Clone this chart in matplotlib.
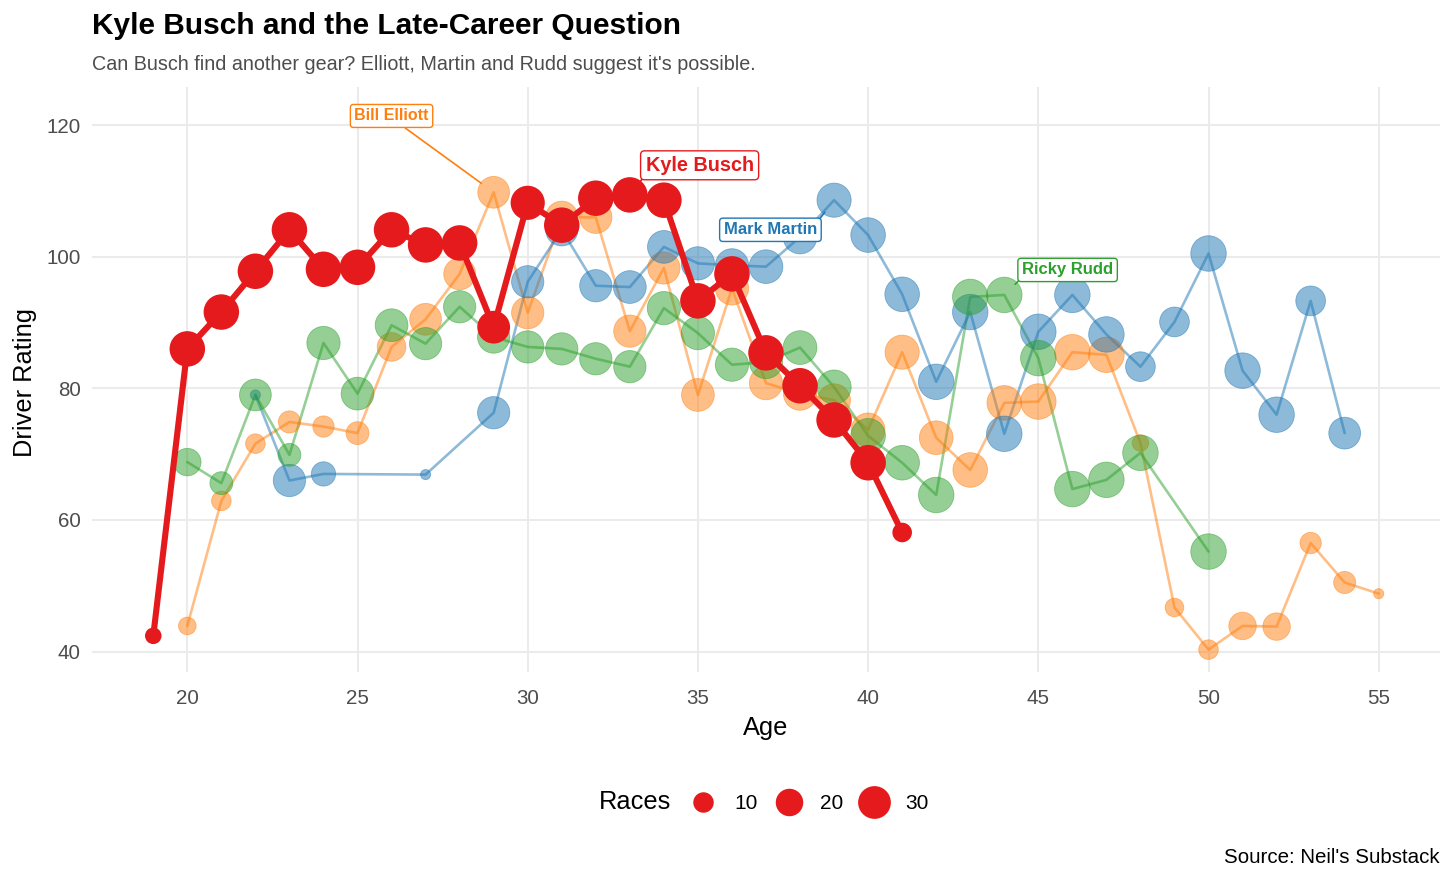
import matplotlib.pyplot as plt
from matplotlib.lines import Line2D

plt.rcParams['font.family'] = ['Liberation Sans', 'DejaVu Sans']

# data: age, driver rating, races started
busch_age = list(range(19, 42))
busch_rating = [42.4, 86.0, 91.6, 97.8, 104.1, 98.1, 98.4, 104.1, 101.8, 102.1, 89.3,
                108.2, 104.8, 108.9, 109.4, 108.6, 93.3, 97.4, 85.4, 80.4, 75.2, 68.7, 58.1]
busch_races = [6, 36, 36, 36, 36, 36, 36, 36, 36, 36, 30,
               33, 36, 36, 36, 36, 36, 36, 36, 36, 36, 36, 9]

elliott_age = list(range(20, 56))
elliott_rating = [43.9, 62.9, 71.6, 74.9, 74.2, 73.2, 86.3, 90.5, 97.4, 109.8, 91.5, 106.0,
                  106.0, 88.7, 98.3, 79.0, 95.2, 80.8, 79.2, 78.2, 73.7, 85.5, 72.5, 67.6,
                  77.8, 78.0, 85.5, 85.1, 71.7, 46.7, 40.3, 43.9, 43.8, 56.5, 50.5, 48.8]
elliott_races = [7, 9, 9, 12, 11, 13, 22, 28, 28, 28, 29, 29,
                 29, 29, 29, 30, 31, 31, 31, 30, 32, 33, 32, 34,
                 34, 36, 36, 36, 6, 8, 9, 20, 20, 11, 12, 2]

martin_age = [22, 23, 24, 27, 29] + list(range(30, 55))
martin_rating = [79.0, 66.0, 67.0, 66.9, 76.3, 96.2, 104.1, 95.6, 95.4, 101.5, 99.0,
                 98.7, 98.5, 103.0, 108.6, 103.3, 94.3, 81.0, 91.6, 73.1, 88.6, 94.2,
                 88.2, 83.3, 90.1, 100.5, 82.7, 76.0, 93.3, 73.2]
martin_races = [2, 29, 15, 2, 29, 29, 29, 29, 30, 30, 31,
                31, 32, 32, 33, 34, 34, 36, 36, 36, 36, 36,
                36, 24, 24, 36, 36, 36, 24, 28]

rudd_age = list(range(20, 49)) + [50]
rudd_rating = [68.8, 65.6, 79.0, 69.9, 86.9, 79.2, 89.6, 86.8, 92.4, 87.8, 86.3, 86.0,
               84.5, 83.3, 92.2, 88.4, 83.6, 84.0, 86.2, 80.2, 72.8, 68.7, 63.8, 93.9,
               94.2, 84.6, 64.7, 66.1, 70.2, 55.2]
rudd_races = [20, 13, 28, 13, 31, 30, 30, 29, 29, 29, 29, 29,
              29, 29, 31, 31, 31, 31, 32, 33, 34, 34, 36, 36,
              36, 36, 36, 36, 36, 36]

RED = '#E41A1C'
ORANGE = '#FF7F0E'
BLUE = '#1F77B4'
GREEN = '#2CA02C'


def size_px(races):
    # area-style size scale, like ggplot's scale_size
    return 5 + 30.5 * ((races - 1) / 35.0) ** 0.5


def size_area(races):
    return [(size_px(r) * 0.72) ** 2 for r in races]


fig = plt.figure(figsize=(14.53, 8.80), dpi=100)
ax = fig.add_axes([92 / 1453, 1 - 672 / 880, (1440 - 92) / 1453, (672 - 87) / 880])

others = [
    (elliott_age, elliott_rating, elliott_races, ORANGE),
    (martin_age, martin_rating, martin_races, BLUE),
    (rudd_age, rudd_rating, rudd_races, GREEN),
]
for age, rating, races, col in others:
    ax.plot(age, rating, color=col, lw=1.9, alpha=0.5, zorder=2, solid_capstyle='round')
for age, rating, races, col in others:
    ax.scatter(age, rating, s=size_area(races), color=col, alpha=0.5,
               edgecolors=col, linewidths=0.6, zorder=3)

ax.plot(busch_age, busch_rating, color=RED, lw=4.4, zorder=4, solid_capstyle='round')
ax.scatter(busch_age, busch_rating, s=size_area(busch_races), color=RED,
           linewidths=0, zorder=5)

ax.set_xlim(17.2, 56.8)
ax.set_ylim(36.9, 125.8)
ax.set_xticks(range(20, 56, 5))
ax.set_yticks(range(40, 121, 20))
ax.grid(True, color='#EBEBEB', lw=1.5)
ax.set_axisbelow(True)
for s in ax.spines.values():
    s.set_visible(False)
ax.tick_params(length=0, labelsize=14.8, labelcolor='#4D4D4D')
ax.tick_params(axis='y', pad=8)
ax.tick_params(axis='x', pad=12)

# driver labels
labels = [
    ('Bill Elliott', 26.0, 121.4, 29, 109.8, ORANGE, 11.5, (0.6, 0)),
    ('Kyle Busch', 35.05, 113.9, 33, 109.4, RED, 14.3, (0, 0)),
    ('Mark Martin', 37.13, 104.1, 39, 108.6, BLUE, 12, (1, 1)),
    ('Ricky Rudd', 45.86, 98.0, 44, 94.2, GREEN, 12, (0, 0)),
]
for txt, lx, ly, px, py, col, fs, rp in labels:
    ax.annotate(txt, xy=(px, py), xytext=(lx, ly), textcoords='data',
                ha='center', va='center', fontsize=fs, fontweight='bold', color=col,
                bbox=dict(boxstyle='round,pad=0.25,rounding_size=0.2', fc='white', ec=col, lw=1),
                arrowprops=dict(arrowstyle='-', color=col, lw=1.2, relpos=rp,
                                shrinkA=0, shrinkB=11),
                zorder=6)

fig.text(92 / 1453, 1 - 26 / 880, 'Kyle Busch and the Late-Career Question',
         fontsize=21.5, fontweight='bold', va='center', ha='left')
fig.text(92 / 1453, 1 - 64 / 880,
         "Can Busch find another gear? Elliott, Martin and Rudd suggest it's possible.",
         fontsize=14.2, color='#4D4D4D', va='center', ha='left')
fig.text(766 / 1453, 1 - 728 / 880, 'Age', fontsize=18.3, ha='center', va='center')
fig.text(25 / 1453, 1 - 382 / 880, 'Driver Rating', fontsize=18.3, ha='center',
         va='center', rotation=90)
fig.text(1440 / 1453, 1 - 857 / 880, "Source: Neil's Substack", fontsize=14.8,
         ha='right', va='center')

# size legend
legend_races = [10, 20, 30]
handles = [Line2D([], [], ls='none', marker='')]
for r in legend_races:
    handles.append(Line2D([], [], ls='none', marker='o', color=RED,
                          markersize=size_px(r) * 0.72, markeredgewidth=0))
leg = fig.legend(handles, ['Races'] + [str(r) for r in legend_races], ncol=4,
                 loc='center', bbox_to_anchor=(738 / 1453, 1 - 802 / 880),
                 frameon=False, fontsize=15, handlelength=2.0, handletextpad=0.5,
                 columnspacing=0.5)
leg.get_texts()[0].set_fontsize(18.3)

fig.savefig('out.png', dpi=100)
